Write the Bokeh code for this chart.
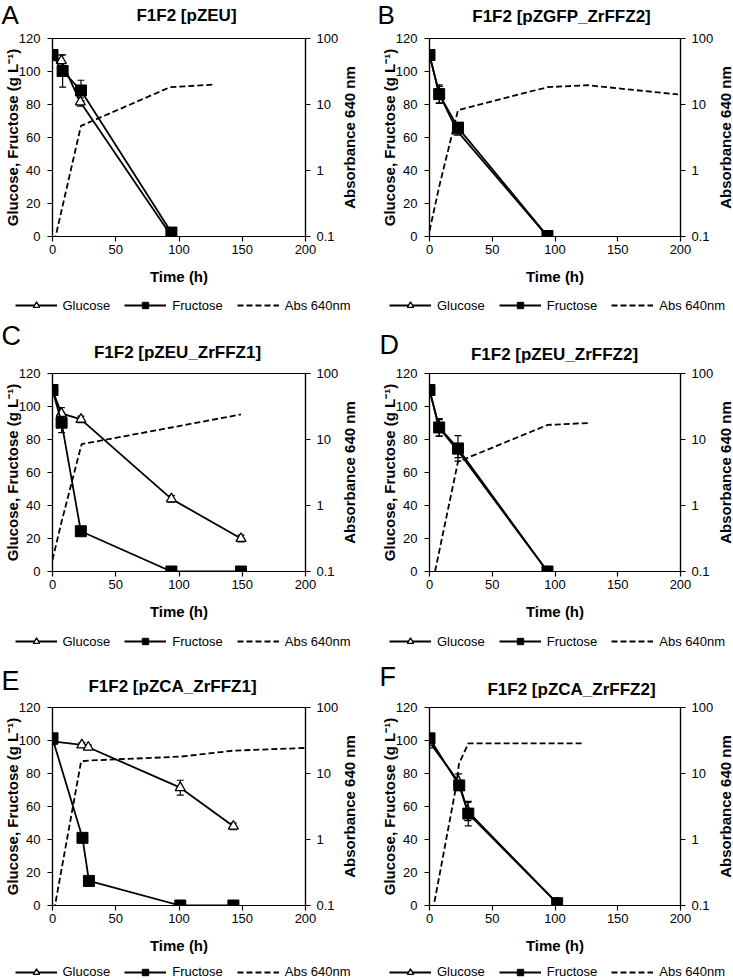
import math
from bokeh.plotting import figure
from bokeh.models import (Range1d, LogScale, LinearAxis, FixedTicker, ColumnDataSource,
                          Whisker, TeeHead, Legend, LegendItem, Label, CustomJSTickFormatter)
from bokeh.layouts import column, row
from bokeh.embed import file_html
from bokeh.resources import INLINE

FONT = "Liberation Sans"

# ---------------- data ----------------
X_TICKS = [0, 50, 100, 150, 200]
Y_TICKS = [0, 20, 40, 60, 80, 100, 120]
ABS_TICKS = [0.1, 1, 10, 100]

# Panel A  F1F2 [pZEU]
A_glc_t = [0, 7, 22, 94]
A_glc = [110, 106.5, 81.5, 0.3]
A_glc_err = [1, 3.5, 2.5, 0.5]
A_fru_t = [0, 8, 22.5, 94]
A_fru = [110, 100.3, 88.5, 2.4]
A_fru_err = [1, 9.8, 6.2, 0.5]
A_abs_t = [0, 7, 22.5, 93, 127]
A_abs = [0.062, 0.24, 4.75, 18.3, 20]

# Panel B  F1F2 [pZGFP_ZrFFZ2]
B_glc_t = [0, 8, 22, 94]
B_glc = [110, 86, 64, 0]
B_glc_err = [1, 5, 2.5, 0.5]
B_fru_t = [0, 7.7, 22.7, 94]
B_fru = [110, 86.3, 66, 0.3]
B_fru_err = [1, 5.6, 2, 0.5]
B_abs_t = [0, 8, 22.7, 94, 126, 198]
B_abs = [0.122, 0.6, 8.2, 18.3, 19.6, 14.2]

# Panel C  F1F2 [pZEU_ZrFFZ1]
C_glc_t = [0, 7, 22.5, 94, 149]
C_glc = [110, 95.8, 92.2, 44, 20]
C_glc_err = [1, 3.5, 2, 2, 2]
C_fru_t = [0, 7.2, 22.4, 94, 149]
C_fru = [110, 90.2, 24.4, 0, 0]
C_fru_err = [1, 6, 1, 0.5, 0.5]
C_abs_t = [0, 7, 23, 94, 149]
C_abs = [0.15, 0.55, 8.5, 15.2, 24]

# Panel D  F1F2 [pZEU_ZrFFZ2]
D_glc_t = [0, 7.7, 22.7, 94]
D_glc = [110, 87, 73, 0]
D_glc_err = [1, 5, 4, 0.5]
D_fru_t = [0, 7.7, 22.7, 94]
D_fru = [110, 87.3, 74.6, 0]
D_fru_err = [1, 5.3, 7.7, 0.5]
D_abs_t = [0, 7.7, 22.7, 94, 127]
D_abs = [0.04, 0.2, 4.6, 16.6, 17.8]

# Panel E  F1F2 [pZCA_ZrFFZ1]
E_glc_t = [0, 23.2, 28.3, 101, 143]
E_glc = [99.5, 97.3, 95.9, 71.4, 48]
E_glc_err = [2, 1.5, 1.5, 4.5, 2]
E_fru_t = [0, 23.7, 28.8, 101, 143]
E_fru = [101.3, 41, 14.9, 0, 0]
E_fru_err = [1, 1, 1, 0.5, 0.5]
E_abs_t = [0, 22.6, 28, 101, 143, 200]
E_abs = [0.062, 15.2, 15.7, 18, 22.2, 24.4]

# Panel F  F1F2 [pZCA_ZrFFZ2]
F_glc_t = [0, 23.2, 30.5, 101.7]
F_glc = [99, 75, 57, 1.5]
F_glc_err = [3.5, 4.8, 5.5, 0.5]
F_fru_t = [0, 23.7, 30.9, 101.7]
F_fru = [101.3, 72.8, 55.7, 1.4]
F_fru_err = [1, 2, 7.4, 0.5]
F_abs_t = [0, 20.6, 23.5, 31, 123]
F_abs = [0.045, 5.5, 14, 28.7, 28.7]

LETTERS = ["A", "B", "C", "D", "E", "F"]
TITLES = ["F1F2 [pZEU]", "F1F2 [pZGFP_ZrFFZ2]", "F1F2 [pZEU_ZrFFZ1]",
          "F1F2 [pZEU_ZrFFZ2]", "F1F2 [pZCA_ZrFFZ1]", "F1F2 [pZCA_ZrFFZ2]"]
LEGEND_LABELS = ["Glucose", "Fructose", "Abs 640nm"]
Y_LABEL = "Glucose, Fructose (g L\u207b\u00b9)"
Y2_LABEL = "Absorbance 640 nm"
X_LABEL = "Time (h)"

DATA = {
    "A": (A_glc_t, A_glc, A_glc_err, A_fru_t, A_fru, A_fru_err, A_abs_t, A_abs),
    "B": (B_glc_t, B_glc, B_glc_err, B_fru_t, B_fru, B_fru_err, B_abs_t, B_abs),
    "C": (C_glc_t, C_glc, C_glc_err, C_fru_t, C_fru, C_fru_err, C_abs_t, C_abs),
    "D": (D_glc_t, D_glc, D_glc_err, D_fru_t, D_fru, D_fru_err, D_abs_t, D_abs),
    "E": (E_glc_t, E_glc, E_glc_err, E_fru_t, E_fru, E_fru_err, E_abs_t, E_abs),
    "F": (F_glc_t, F_glc, F_glc_err, F_fru_t, F_fru, F_fru_err, F_abs_t, F_abs),
}

# ---------------- layout (pixels) ----------------
COL_W = [366, 367]          # total panel width
COL_LEFT = [51, 63]         # main-plot left border
COL_FW = [257, 254]         # frame width
RIGHT_B = 33                # main-plot right border
FH = 198
TOP_B = 8
BOT_B = 58
HEADER_H = [30, 45, 49]
FOOTER_H = [26, 21, 17]
LEG_CY = [11, 12, 8.5]      # legend centre below footer top
LEG_CX = [182.5, 191]
LEG_W = 336
# header text centres (from header top)
TITLE_Y = {"A": 15, "B": 15.7, "C": 31.7, "D": 34, "E": 36, "F": 39}
TITLE_X = {"A": 186, "B": 195, "C": 177, "D": 188, "E": 172, "F": 205}
LETTER_CY = {"A": 14.6, "B": 14.6, "C": 15.7, "D": 24.2, "E": 30.8, "F": 26.8}
LETTER_X = {"A": 1, "B": 11, "C": 1, "D": 13, "E": 1, "F": 13}
LETTER_SIZE = {"A": "26px", "B": "26px", "C": "27px", "D": "27px", "E": "27px", "F": "27px"}


def style_axis(ax):
    ax.axis_line_color = "black"
    ax.axis_line_width = 1.2
    ax.major_tick_line_color = "black"
    ax.major_tick_line_width = 1.2
    ax.major_tick_in = 0
    ax.major_tick_out = 5
    ax.minor_tick_line_color = None
    ax.major_label_text_font = FONT
    ax.major_label_text_font_size = "13px"
    ax.major_label_text_color = "black"
    ax.axis_label_text_font = FONT
    ax.axis_label_text_font_size = "15px"
    ax.axis_label_text_font_style = "bold"
    ax.axis_label_text_color = "black"


def no_align(f):
    try:
        f.frame_align = False
    except Exception:
        pass


def blank_fig(W, H, top=0, bottom=0, xr=(0, 1)):
    f = figure(width=W, height=H, output_backend="svg", toolbar_location=None,
               x_axis_location=None, y_axis_location=None, title=None,
               min_border=0, min_border_left=0, min_border_right=0,
               min_border_top=top, min_border_bottom=bottom,
               x_range=Range1d(*xr), y_range=Range1d(0, 1),
               outline_line_color=None, background_fill_color="white",
               border_fill_color="white")
    f.grid.visible = False
    no_align(f)
    return f


def make_panel(idx):
    letter = LETTERS[idx]
    r, c = divmod(idx, 2)
    W = COL_W[c]
    bl, fw = COL_LEFT[c], COL_FW[c]
    Wm = bl + fw + RIGHT_B
    Sw = W - Wm
    gt, g, ge, ft, f, fe, at, a = DATA[letter]

    # ---- header: panel letter + title ----
    hh = HEADER_H[r]
    head = blank_fig(W, hh)
    head.add_layout(Label(x=LETTER_X[letter], y=hh - LETTER_CY[letter], x_units="screen", y_units="screen",
                          text=letter, text_align="left", text_baseline="middle",
                          text_font=FONT, text_font_size=LETTER_SIZE[letter], text_color="black"))
    head.add_layout(Label(x=TITLE_X[letter], y=hh - TITLE_Y[letter], x_units="screen", y_units="screen",
                          text=TITLES[idx], text_align="center", text_baseline="middle",
                          text_font=FONT, text_font_size="17px", text_font_style="bold",
                          text_color="black"))

    # ---- main plot ----
    H = TOP_B + FH + BOT_B
    p = figure(width=Wm, height=H, output_backend="svg", toolbar_location=None, title=None,
               x_range=Range1d(0, 200), y_range=Range1d(0, 120),
               min_border_left=bl, min_border_right=RIGHT_B,
               min_border_top=TOP_B, min_border_bottom=BOT_B,
               background_fill_color="white", border_fill_color="white")
    no_align(p)
    p.extra_y_ranges = {"abs": Range1d(0.1, 100)}
    p.extra_y_scales = {"abs": LogScale()}
    p.xgrid.visible = False
    p.ygrid.visible = False
    p.outline_line_color = "black"
    p.outline_line_width = 1.2

    xa = p.xaxis[0]
    style_axis(xa)
    xa.ticker = FixedTicker(ticks=X_TICKS)
    xa.axis_label = X_LABEL
    xa.major_label_standoff = 3
    xa.axis_label_standoff = 11

    ya = p.yaxis[0]
    style_axis(ya)
    ya.ticker = FixedTicker(ticks=Y_TICKS)
    ya.axis_label = Y_LABEL
    ya.major_label_standoff = 7
    ya.axis_label_standoff = -5

    ra = LinearAxis(y_range_name="abs", ticker=FixedTicker(ticks=ABS_TICKS),
                    formatter=CustomJSTickFormatter(code="return String(tick)"))
    style_axis(ra)
    ra.major_label_standoff = 6
    p.add_layout(ra, "right")

    gsrc = ColumnDataSource(dict(t=gt, y=g, lo=[v - e for v, e in zip(g, ge)], up=[v + e for v, e in zip(g, ge)]))
    fsrc = ColumnDataSource(dict(t=ft, y=f, lo=[v - e for v, e in zip(f, fe)], up=[v + e for v, e in zip(f, fe)]))
    asrc = ColumnDataSource(dict(t=at, y=a))
    for src in (gsrc, fsrc):
        p.add_layout(Whisker(source=src, base="t", lower="lo", upper="up", line_color="black", line_width=1.2,
                             upper_head=TeeHead(size=7, line_color="black", line_width=1.2),
                             lower_head=TeeHead(size=7, line_color="black", line_width=1.2),
                             level="underlay"))

    line_kw = dict(line_color="black", line_width=1.8)
    dash_kw = dict(line_color="black", line_width=1.8, line_dash="6 3")
    tri_kw = dict(marker="triangle", size=10, fill_color="white", line_color="black", line_width=1.3)
    sq_kw = dict(marker="square", size=11, fill_color="black", line_color="black")

    p.line("t", "y", source=asrc, y_range_name="abs", **dash_kw)
    p.line("t", "y", source=gsrc, **line_kw)
    p.scatter("t", "y", source=gsrc, **tri_kw)
    p.line("t", "y", source=fsrc, **line_kw)
    p.scatter("t", "y", source=fsrc, **sq_kw)

    # ---- right strip: right-axis title reading bottom to top ----
    strip = blank_fig(Sw, H, top=TOP_B, bottom=BOT_B)
    lx = Sw - 8.5 if c == 1 else 8.4
    strip.add_layout(Label(x=lx, y=FH / 2, x_units="screen", y_units="screen", text=Y2_LABEL,
                           angle=math.pi / 2, text_align="center", text_baseline="middle",
                           text_font=FONT, text_font_size="15px", text_font_style="bold",
                           text_color="black"))

    # ---- footer: legend (keys drawn from the same series, data kept out of view) ----
    fh_ = FOOTER_H[r]
    foot = blank_fig(W, fh_, xr=(-20, -10))
    l3 = foot.line("t", "y", source=asrc, **dash_kw)
    l1 = foot.line("t", "y", source=gsrc, **line_kw)
    m1 = foot.scatter("t", "y", source=gsrc, **tri_kw)
    l2 = foot.line("t", "y", source=fsrc, **line_kw)
    m2 = foot.scatter("t", "y", source=fsrc, **sq_kw)
    legend = Legend(items=[LegendItem(label=LEGEND_LABELS[0], renderers=[l1, m1]),
                           LegendItem(label=LEGEND_LABELS[1], renderers=[l2, m2]),
                           LegendItem(label=LEGEND_LABELS[2], renderers=[l3])],
                    orientation="horizontal",
                    location=(LEG_CX[c] - LEG_W / 2, fh_ - LEG_CY[r] - 8),
                    glyph_width=42, glyph_height=16, label_height=16, label_standoff=6,
                    spacing=14, padding=0, margin=0, border_line_color=None,
                    background_fill_alpha=0, label_text_font=FONT,
                    label_text_font_size="13px", label_text_color="black")
    foot.add_layout(legend)

    return column(head, row(p, strip, spacing=0), foot, spacing=0)


panels = [make_panel(i) for i in range(6)]
layout = column(row(panels[0], panels[1], spacing=0),
                row(panels[2], panels[3], spacing=0),
                row(panels[4], panels[5], spacing=0), spacing=0)

open("out.html", "w").write(file_html(layout, INLINE))
